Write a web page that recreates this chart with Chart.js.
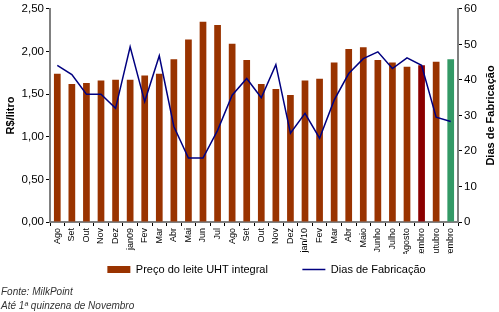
<!DOCTYPE html>
<html>
<head>
  <script src="https://cdn.jsdelivr.net/npm/chart.js"></script>
  <style>
    body { margin: 0; background: #fff; }
    .wrap { position: relative; width: 499px; height: 312px; }
    .note {
      position: absolute; left: 1px;
      font: italic 10px "Liberation Sans", Arial, sans-serif; color: #333;
    }
  </style>
</head>
<body>
  <div class="wrap">
    <canvas id="leite" width="499" height="312"></canvas>
    <div class="note" style="top:286px">Fonte: MilkPoint</div>
    <div class="note" style="top:300px">Até 1ª quinzena de Novembro</div>
  </div>

  <script>
    const meses = ['Ago', 'Set', 'Out', 'Nov', 'Dez', 'jan09', 'Fev', 'Mar', 'Abr', 'Mai', 'Jun', 'Jul',
      'Ago', 'Set', 'Out', 'Nov', 'Dez', 'jan/10', 'Fev', 'Mar', 'Abr', 'Maio', 'Junho', 'Julho',
      'Agosto', 'Setembro', 'Outubro', 'Novembro'];
    const precoLeite = [1.74, 1.62, 1.63, 1.66, 1.67, 1.67, 1.72, 1.74, 1.91, 2.14, 2.35, 2.31,
      2.09, 1.90, 1.62, 1.56, 1.49, 1.66, 1.68, 1.87, 2.03, 2.05, 1.90, 1.87,
      1.82, 1.84, 1.88, 1.91];
    const diasFabricacao = [44.1, 41.5, 36.0, 36.0, 32.0, 49.3, 33.9, 46.8, 26.9, 18.0, 18.0, 25.8,
      35.7, 40.4, 35.0, 44.3, 25.0, 30.6, 23.6, 34.3, 41.8, 46.0, 47.9, 43.2,
      46.2, 44.1, 29.5, 28.3];

    // cores das barras: setembro 2010 em vermelho escuro, novembro (parcial) em verde
    const coresBarras = meses.map((m, i) =>
      i === 25 ? '#8b0000' : (i === 27 ? '#339966' : '#993300'));

    const fonte = '"Liberation Sans", Arial, sans-serif';

    // título do eixo direito lido de baixo para cima, como no Excel
    const tituloDireito = {
      id: 'tituloDireito',
      afterLayout(chart) {
        // legenda um pouco à direita, como no original
        chart.legend.left += 17;
        chart.legend.right += 17;
      },
      afterDraw(chart) {
        const ctx = chart.ctx;
        const area = chart.chartArea;
        ctx.save();
        ctx.translate(491, (area.top + area.bottom) / 2);
        ctx.rotate(-Math.PI / 2);
        ctx.font = 'bold 11px ' + fonte;
        ctx.fillStyle = '#000';
        ctx.textAlign = 'center';
        ctx.textBaseline = 'middle';
        ctx.fillText('Dias de Fabricação', 0, 0);
        ctx.restore();
      }
    };

    new Chart(document.getElementById('leite'), {
      data: {
        labels: meses,
        datasets: [
          {
            type: 'line',
            label: 'Dias de Fabricação',
            data: diasFabricacao,
            yAxisID: 'dias',
            borderColor: '#000080',
            backgroundColor: '#000080',
            borderWidth: 1.5,
            pointRadius: 0,
            tension: 0,
            pointStyle: 'line',
            order: 0
          },
          {
            type: 'bar',
            label: 'Preço do leite UHT integral',
            data: precoLeite,
            yAxisID: 'preco',
            backgroundColor: coresBarras,
            borderWidth: 0,
            barPercentage: 0.46,
            categoryPercentage: 1,
            pointStyle: 'rect',
            order: 1
          }
        ]
      },
      options: {
        responsive: false,
        animation: false,
        layout: { padding: { top: 0, bottom: 27, left: 0, right: 0 } },
        plugins: {
          tooltip: { enabled: false },
          legend: {
            position: 'bottom',
            reverse: true,
            labels: {
              usePointStyle: true,
              pointStyleWidth: 23,
              boxHeight: 7,
              padding: 10,
              color: '#000',
              font: { family: fonte, size: 11 },
              generateLabels(chart) {
                const itens = Chart.defaults.plugins.legend.labels.generateLabels(chart);
                // espaço extra entre os dois itens da legenda
                itens.forEach(it => { if (it.datasetIndex === 1) it.text += '        '; });
                return itens;
              }
            }
          }
        },
        scales: {
          x: {
            grid: { display: true, drawOnChartArea: false, tickLength: 4, color: '#000', offset: true },
            border: { color: '#808080', width: 2 },
            ticks: {
              autoSkip: false, maxRotation: 90, minRotation: 90, padding: 2,
              color: '#000', font: { family: fonte, size: 9 }
            },
            afterFit(scale) { scale.height = 32; }
          },
          preco: {
            position: 'left',
            min: 0, max: 2.5,
            grid: { drawOnChartArea: false, tickLength: 4, color: '#000' },
            border: { color: '#808080', width: 2 },
            ticks: {
              stepSize: 0.5, padding: 2, color: '#000',
              font: { family: fonte, size: 11.5 },
              callback: v => v.toFixed(2).replace('.', ',')
            },
            title: { display: true, text: 'R$/litro', color: '#000', padding: { top: 4, bottom: 0 },
              font: { family: fonte, size: 11, weight: 'bold' } },
            afterFit(scale) { scale.width = 50; }
          },
          dias: {
            position: 'right',
            min: 0, max: 60,
            grid: { drawOnChartArea: false, tickLength: 4, color: '#000' },
            border: { color: '#808080', width: 2 },
            ticks: {
              stepSize: 10, padding: 2, color: '#000',
              font: { family: fonte, size: 11.5 }
            },
            afterFit(scale) { scale.width = 41; }
          }
        }
      },
      plugins: [tituloDireito]
    });
  </script>
</body>
</html>
